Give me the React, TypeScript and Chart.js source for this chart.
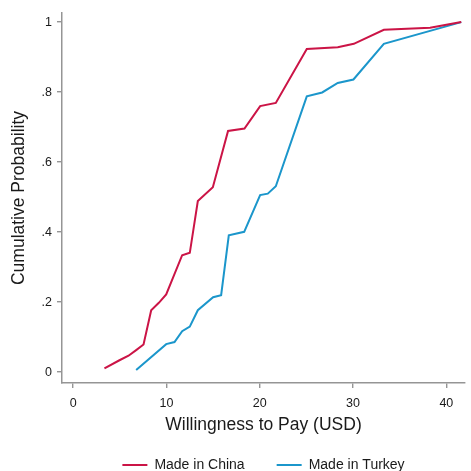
import React, { useEffect, useRef } from "react";
import { Chart, registerables } from "chart.js";

Chart.register(...registerables);

const chinaX = [3.35, 4.96, 5.93, 6.75, 7.54, 8.36, 9.18, 9.97, 11.68, 12.5, 13.36, 14.97, 16.6, 18.36, 20.04, 21.72, 25.04, 28.36, 30.08, 33.3, 38.26, 41.6];
const chinaY = [0.011, 0.034, 0.047, 0.063, 0.079, 0.177, 0.198, 0.222, 0.334, 0.341, 0.489, 0.528, 0.689, 0.696, 0.76, 0.769, 0.923, 0.928, 0.938, 0.978, 0.984, 1.0];

const turkeyX = [6.75, 9.97, 10.86, 11.68, 12.5, 13.36, 15.0, 15.86, 16.68, 18.33, 20.04, 20.86, 21.72, 25.04, 26.69, 28.36, 30.04, 33.3, 41.6];
const turkeyY = [0.006, 0.08, 0.086, 0.117, 0.13, 0.177, 0.214, 0.22, 0.391, 0.401, 0.506, 0.51, 0.531, 0.788, 0.799, 0.826, 0.836, 0.938, 1.0];

const seriesLabels = ["Made in China", "Made in Turkey"];
const xTickValues = [0, 10, 20, 30, 40];
const xTickLabels = ["0", "10", "20", "30", "40"];
const yTickValues = [0, 0.2, 0.4, 0.6, 0.8, 1];
const yTickLabels = ["0", ".2", ".4", ".6", ".8", "1"];
const xTitle = "Willingness to Pay (USD)";
const yTitle = "Cumulative Probability";

const RED = "#CB1446";
const BLUE = "#1B96CB";
const AXIS = "#959595";
const TEXT = "#1a1a1a";
const FONT = "'Liberation Sans', Arial, Helvetica, sans-serif";

export default function App() {
  const ref = useRef<HTMLCanvasElement | null>(null);

  useEffect(() => {
    if (!ref.current) return;
    const toPts = (xs: number[], ys: number[]) => xs.map((x, i) => ({ x, y: ys[i] }));
    const chart = new Chart(ref.current, {
      type: "line",
      data: {
        datasets: [
          {
            label: seriesLabels[0],
            data: toPts(chinaX, chinaY),
            borderColor: RED,
            backgroundColor: RED,
            borderWidth: 2,
            pointRadius: 0,
            tension: 0,
          },
          {
            label: seriesLabels[1],
            data: toPts(turkeyX, turkeyY),
            borderColor: BLUE,
            backgroundColor: BLUE,
            borderWidth: 2,
            pointRadius: 0,
            tension: 0,
          },
        ],
      },
      options: {
        responsive: false,
        animation: false,
        font: { family: FONT },
        layout: { padding: { top: 13, right: 6, bottom: 0, left: 0 } },
        plugins: {
          tooltip: { enabled: false },
          legend: {
            position: "bottom",
            fullSize: false,
            maxHeight: 45,
            labels: {
              usePointStyle: true,
              pointStyle: "line",
              pointStyleWidth: 25,
              padding: 32,
              color: TEXT,
              font: { family: FONT, size: 14 },
            },
          },
        },
        scales: {
          x: {
            type: "linear",
            min: -1.2,
            max: 42,
            afterBuildTicks: (s: any) => {
              s.ticks = xTickValues.map((v) => ({ value: v }));
            },
            afterFit: (s: any) => {
              s.height = 43;
            },
            ticks: {
              color: TEXT,
              padding: 8,
              font: { family: FONT, size: 12.5 },
              callback: (v: any) => {
                const i = xTickValues.indexOf(Number(v));
                return i >= 0 ? xTickLabels[i] : "";
              },
            },
            grid: {
              drawOnChartArea: false,
              drawTicks: true,
              tickLength: 5,
              color: AXIS,
              lineWidth: 1.4,
            },
            border: { display: true, color: AXIS, width: 1.5 },
            title: {
              display: true,
              text: xTitle,
              color: TEXT,
              font: { family: FONT, size: 17.5 },
              padding: { top: 0, bottom: -9.5 },
            },
          },
          y: {
            type: "linear",
            min: -0.031,
            max: 1.026,
            afterBuildTicks: (s: any) => {
              s.ticks = yTickValues.map((v) => ({ value: v }));
            },
            afterFit: (s: any) => {
              s.width = 62;
            },
            ticks: {
              color: TEXT,
              padding: 5,
              font: { family: FONT, size: 12.5 },
              callback: (v: any) => {
                const i = yTickValues.findIndex((t) => Math.abs(t - Number(v)) < 1e-9);
                return i >= 0 ? yTickLabels[i] : "";
              },
            },
            grid: {
              drawOnChartArea: false,
              drawTicks: true,
              tickLength: 5,
              color: AXIS,
              lineWidth: 1.4,
            },
            border: { display: true, color: AXIS, width: 1.5 },
            title: {
              display: true,
              text: yTitle,
              color: TEXT,
              font: { family: FONT, size: 17.5 },
              padding: { top: 8.5, bottom: 0 },
            },
          },
        },
      },
    } as any);
    return () => chart.destroy();
  }, []);

  return (
    <div style={{ position: "absolute", left: 0, top: 0, width: 471, height: 471, background: "#fff" }}>
      <canvas ref={ref} width={471} height={471} style={{ display: "block", width: 471, height: 471 }} />
    </div>
  );
}
